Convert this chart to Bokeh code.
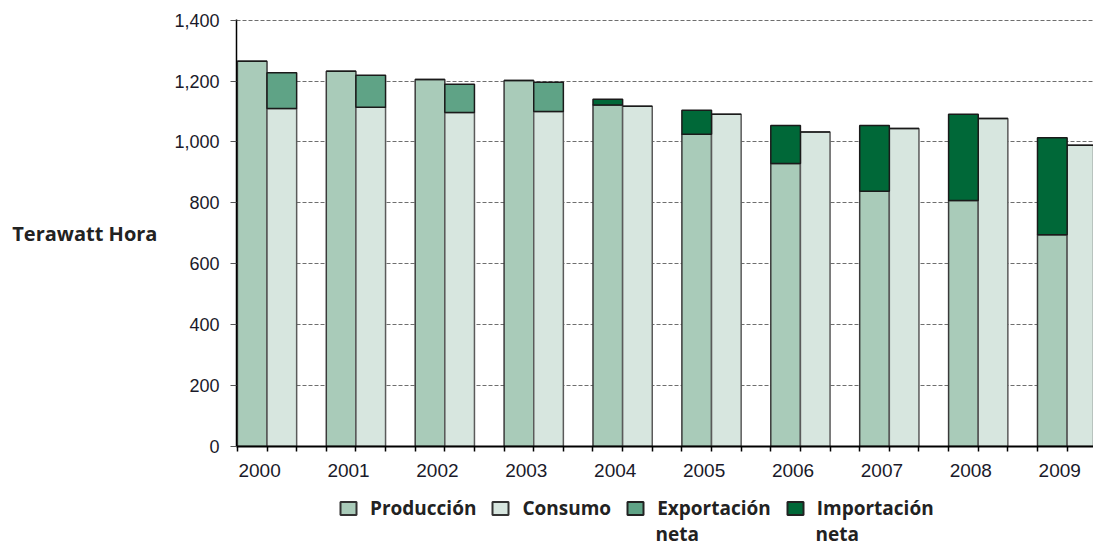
import numpy as np
from bokeh.plotting import figure
from bokeh.layouts import column
from bokeh.models import (Range1d, FixedTicker, NumeralTickFormatter, Legend, LegendItem,
                          ColumnDataSource, Label)
from bokeh.embed import file_html
from bokeh.resources import INLINE

years = ["2000", "2001", "2002", "2003", "2004", "2005", "2006", "2007", "2008", "2009"]
produccion = [1265, 1232, 1205, 1202, 1121, 1025, 929, 838, 808, 695]
consumo = [1110, 1114, 1097, 1100, 1117, 1091, 1033, 1044, 1077, 989]
exportacion = [117, 105, 92, 96, 0, 0, 0, 0, 0, 0]
importacion = [0, 0, 0, 0, 19, 79, 125, 216, 283, 319]
y_ticks = [0, 200, 400, 600, 800, 1000, 1200, 1400]
legend_labels = ["Producción", "Consumo", "Exportación", "Importación"]
legend_second_line = ["", "", "neta", "neta"]

C_PROD = "#a9cbb9"
C_CONS = "#d7e6df"
C_EXP = "#5fa386"
C_IMP = "#006838"

idx = np.arange(len(years))
prod = np.array(produccion, dtype=float)
cons = np.array(consumo, dtype=float)
exp_ = np.array(exportacion, dtype=float)
imp_ = np.array(importacion, dtype=float)

src = ColumnDataSource(dict(
    xp=idx + 1/6, xc=idx + 0.5,
    prod=prod, cons=cons,
    exp_bot=cons, exp_top=cons + exp_,
    imp_bot=prod, imp_top=prod + imp_,
))

W = 1093
p = figure(width=W, height=480, output_backend="svg", toolbar_location=None,
           x_range=Range1d(-0.01, 9.63), y_range=Range1d(0, 1402),
           min_border_left=236, min_border_right=0, min_border_top=19,
           min_border_bottom=34)
p.outline_line_color = None
p.background_fill_color = "white"
p.xgrid.grid_line_color = None
p.ygrid.ticker = FixedTicker(ticks=y_ticks)
p.ygrid.grid_line_color = "#6e6e6e"
p.ygrid.grid_line_dash = "4 2"
p.ygrid.grid_line_width = 1.2

r_prod = p.vbar(x="xp", width=1/3, bottom=0, top="prod", source=src,
                fill_color=C_PROD, line_color="#3a3a3a", line_width=1.5)
r_cons = p.vbar(x="xc", width=1/3, bottom=0, top="cons", source=src,
                fill_color=C_CONS, line_color="#5a5a5a", line_width=1.5)
r_exp = p.vbar(x="xc", width=1/3, bottom="exp_bot", top="exp_top", source=src,
               fill_color=C_EXP, line_color="#1a1a1a", line_width=1.5)
r_imp = p.vbar(x="xp", width=1/3, bottom="imp_bot", top="imp_top", source=src,
               fill_color=C_IMP, line_color="#1a1a1a", line_width=1.5)

# y axis
p.yaxis.ticker = FixedTicker(ticks=y_ticks)
p.yaxis.formatter = NumeralTickFormatter(format="0,0")
p.yaxis.axis_line_color = "black"
p.yaxis.axis_line_width = 1.5
p.yaxis.major_tick_out = 6
p.yaxis.major_tick_in = 0
p.yaxis.major_tick_line_color = "#555555"
p.yaxis.minor_tick_line_color = None
p.yaxis.major_label_text_font = "Liberation Sans"
p.yaxis.major_label_text_font_size = "18px"
p.yaxis.major_label_text_color = "#1a1a2a"
p.yaxis.major_label_standoff = 11
p.yaxis.axis_label = "Terawatt Hora"
p.yaxis.axis_label_orientation = "horizontal"
p.yaxis.axis_label_text_font = "Open Sans"
p.yaxis.axis_label_text_font_style = "bold"
p.yaxis.axis_label_text_font_size = "20px"
p.yaxis.axis_label_text_color = "#222222"
p.yaxis.axis_label_standoff = 14

# x axis
label_pos = [float(i) + 0.25 for i in idx]
minor = sorted([float(i) + k / 3 for i in idx for k in range(3)])
p.xaxis.ticker = FixedTicker(ticks=label_pos, minor_ticks=minor)
p.xaxis.major_label_overrides = {lp: y for lp, y in zip(label_pos, years)}
p.xaxis.axis_line_color = "black"
p.xaxis.axis_line_width = 2
p.xaxis.major_tick_out = 0
p.xaxis.major_tick_in = 0
p.xaxis.major_tick_line_color = None
p.xaxis.minor_tick_out = 5
p.xaxis.minor_tick_in = 0
p.xaxis.minor_tick_line_color = "black"
p.xaxis.minor_tick_line_width = 1.5
p.xaxis.major_label_text_font = "Liberation Sans"
p.xaxis.major_label_text_font_size = "19px"
p.xaxis.major_label_text_color = "#1a1a2a"
p.xaxis.major_label_standoff = 12

# legend figure: frame aligned with the main frame (page x 236..1093, y 480..548)
lf = figure(width=W, height=68, output_backend="svg", toolbar_location=None,
            x_range=Range1d(236, 1093), y_range=Range1d(0, 68),
            x_axis_location=None, y_axis_location=None, min_border=0)
lf.grid.visible = False
lf.outline_line_color = None
fills = [C_PROD, C_CONS, C_EXP, C_IMP]
lines = ["#333333", "#333333", "#222222", "#222222"]
rends = [lf.rect(x=[-1000], y=[-1000], width=1, height=1,
                 fill_color=f, line_color=lc, line_width=2)
         for f, lc in zip(fills, lines)]

legend = Legend(items=[LegendItem(label=l, renderers=[r]) for l, r in zip(legend_labels, rends)],
                orientation="horizontal", location=(102, 27))
legend.glyph_width = 20
legend.glyph_height = 16
legend.label_standoff = 12
legend.spacing = 14
legend.padding = 0
legend.margin = 0
legend.border_line_color = None
legend.background_fill_alpha = 0
legend.label_text_font = "Open Sans"
legend.label_text_font_style = "bold"
legend.label_text_font_size = "19px"
legend.label_text_color = "#222222"
lf.add_layout(legend, "center")

for xpos, txt in zip([0, 0, 655, 815], legend_second_line):
    if txt:
        lf.add_layout(Label(x=xpos, y=15, text=txt, text_baseline="middle",
                            text_font="Open Sans", text_font_style="bold",
                            text_font_size="19px", text_color="#222222"))

layout = column(p, lf, spacing=0)
open("out.html", "w").write(file_html(layout, INLINE))
